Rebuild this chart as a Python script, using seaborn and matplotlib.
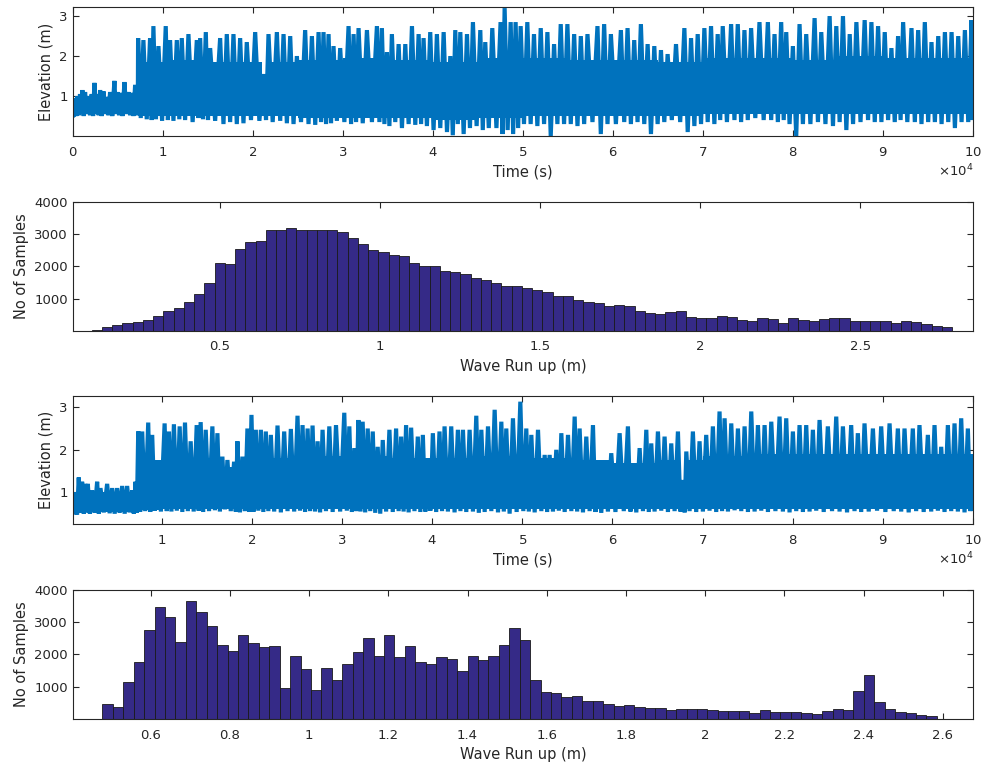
import numpy as np
import pandas as pd
import seaborn as sns
import matplotlib
matplotlib.use("Agg")
import matplotlib.pyplot as plt
from matplotlib.ticker import FuncFormatter

# ---- run 1 elevation record: peak times (x1e4 s), peak tops and local lows (m)
run1_t = [0.0, 0.026, 0.052, 0.081, 0.107, 0.137, 0.174, 0.211, 0.241, 0.274, 0.304,
          0.341, 0.378, 0.415, 0.463, 0.496, 0.533, 0.574, 0.619, 0.656, 0.693, 0.719,
          0.726, 0.785, 0.859, 0.896, 0.952, 1.033, 1.081, 1.156, 1.211, 1.285, 1.378,
          1.415, 1.478, 1.526, 1.637, 1.711, 1.785, 1.859, 1.933, 2.026, 2.119, 2.174,
          2.267, 2.341, 2.415, 2.489, 2.581, 2.656, 2.730, 2.785, 2.841, 2.896, 2.970,
          3.063, 3.119, 3.174, 3.267, 3.378, 3.433, 3.489, 3.544, 3.619, 3.693, 3.767,
          3.841, 3.896, 3.970, 4.044, 4.119, 4.193, 4.248, 4.304, 4.378, 4.444, 4.526,
          4.581, 4.659, 4.751, 4.796, 4.863, 4.918, 4.974, 5.048, 5.122, 5.197, 5.271,
          5.345, 5.419, 5.493, 5.568, 5.642, 5.716, 5.827, 5.901, 5.976, 6.087, 6.161,
          6.235, 6.309, 6.384, 6.458, 6.532, 6.606, 6.699, 6.792, 6.866, 6.940, 7.014,
          7.088, 7.162, 7.218, 7.311, 7.385, 7.459, 7.533, 7.626, 7.719, 7.793, 7.867,
          7.923, 7.997, 8.071, 8.145, 8.238, 8.312, 8.405, 8.479, 8.553, 8.628, 8.702,
          8.794, 8.869, 8.943, 9.017, 9.091, 9.165, 9.221, 9.314, 9.388, 9.462, 9.536,
          9.611, 9.685, 9.759, 9.833, 9.907, 9.981, 10.0]
run1_hi = [0.5, 0.75, 1.0, 1.05, 1.15, 1.1, 1.0, 1.05, 1.33, 1.05, 1.15,
           1.12, 0.98, 1.1, 1.38, 1.1, 1.08, 1.35, 1.1, 1.08, 1.28, 1.1,
           2.45, 2.4, 2.45, 2.75, 2.25, 2.75, 2.4, 2.4, 2.45, 2.55, 2.4,
           2.45, 2.6, 2.2, 2.45, 2.55, 2.55, 2.45, 2.35, 2.6, 1.55, 2.55,
           2.6, 2.55, 2.5, 2.0, 2.65, 2.5, 2.6, 2.6, 2.55, 2.25, 2.2,
           2.75, 2.55, 2.7, 2.65, 2.75, 2.7, 2.1, 2.55, 2.3, 2.3, 2.75,
           2.55, 2.45, 2.6, 2.55, 2.6, 2.0, 2.65, 2.6, 2.55, 2.85, 2.65,
           2.35, 2.7, 2.85, 3.2, 2.85, 2.85, 2.75, 2.85, 2.55, 2.7, 2.6,
           2.3, 2.8, 2.8, 2.55, 2.5, 2.55, 2.75, 2.8, 2.55, 2.65, 2.7,
           2.4, 2.8, 2.3, 2.25, 2.15, 2.05, 2.3, 2.7, 2.45, 2.55, 2.7,
           2.75, 2.55, 2.75, 2.8, 2.8, 2.65, 2.7, 2.85, 2.85, 2.55, 2.85,
           2.6, 2.25, 2.8, 2.55, 2.95, 2.6, 3.0, 2.75, 3.0, 2.55, 2.85,
           2.9, 2.85, 2.75, 2.6, 2.2, 2.5, 2.85, 2.7, 2.65, 2.85, 2.35,
           2.5, 2.6, 2.6, 2.5, 2.65, 2.9, 2.05]
run1_lo = [0.5, 0.5, 0.52, 0.55, 0.5, 0.55, 0.52, 0.5, 0.55, 0.52, 0.5,
           0.55, 0.52, 0.5, 0.55, 0.52, 0.5, 0.55, 0.52, 0.5, 0.55, 0.52,
           0.45, 0.42, 0.4, 0.42, 0.38, 0.4, 0.38, 0.42, 0.4, 0.35, 0.45,
           0.42, 0.4, 0.38, 0.3, 0.35, 0.3, 0.32, 0.4, 0.38, 0.4, 0.35,
           0.38, 0.32, 0.3, 0.35, 0.3, 0.28, 0.35, 0.3, 0.32, 0.38, 0.35,
           0.3, 0.35, 0.32, 0.35, 0.35, 0.3, 0.25, 0.35, 0.2, 0.3, 0.28,
           0.3, 0.25, 0.15, 0.2, 0.1, 0.02, 0.3, 0.05, 0.2, 0.25, 0.15,
           0.2, 0.2, 0.05, 0.15, 0.05, 0.2, 0.3, 0.3, 0.25, 0.3, 0.0,
           0.3, 0.3, 0.3, 0.25, 0.3, 0.35, 0.05, 0.3, 0.3, 0.35, 0.3,
           0.35, 0.3, 0.05, 0.3, 0.35, 0.4, 0.35, 0.1, 0.25, 0.3, 0.35,
           0.3, 0.4, 0.35, 0.4, 0.35, 0.4, 0.45, 0.4, 0.4, 0.35, 0.4,
           0.3, 0.0, 0.3, 0.3, 0.35, 0.3, 0.25, 0.35, 0.15, 0.3, 0.35,
           0.4, 0.35, 0.35, 0.4, 0.35, 0.4, 0.35, 0.35, 0.3, 0.35, 0.35,
           0.3, 0.35, 0.2, 0.35, 0.35, 0.4, 0.45]
# dense core of run 1 (solid band): times (x1e4 s), band bottom and top (m)
core1_t = [0.0, 0.73, 1.0, 1.5, 2.0, 2.1, 2.15, 2.5, 3.0, 3.5, 4.0, 4.5,
           5.0, 5.5, 6.0, 6.5, 7.0, 7.5, 8.0, 8.5, 9.0, 9.5, 10.0]
core1_bot = [0.55, 0.5, 0.5, 0.5, 0.5, 0.5, 0.5, 0.45, 0.45, 0.45, 0.4, 0.45,
             0.5, 0.5, 0.5, 0.5, 0.55, 0.55, 0.55, 0.55, 0.55, 0.55, 0.55]
core1_top = [0.95, 1.85, 1.9, 1.85, 1.85, 1.45, 1.85, 1.9, 1.95, 1.9, 1.85, 1.95,
             1.95, 1.9, 1.9, 1.85, 1.95, 1.95, 1.9, 2.0, 1.95, 1.95, 1.95]

# ---- run 2 elevation record
run2_t = [0.014, 0.040, 0.077, 0.114, 0.151, 0.177, 0.225, 0.281, 0.318, 0.392, 0.448,
          0.503, 0.559, 0.614, 0.670, 0.707, 0.737, 0.781, 0.848, 0.892, 0.948, 1.030,
          1.078, 1.133, 1.197, 1.256, 1.319, 1.386, 1.430, 1.486, 1.560, 1.616, 1.671,
          1.727, 1.801, 1.838, 1.894, 1.949, 1.994, 2.042, 2.098, 2.153, 2.209, 2.283,
          2.357, 2.431, 2.505, 2.561, 2.617, 2.672, 2.728, 2.783, 2.858, 2.932, 3.024,
          3.080, 3.136, 3.180, 3.228, 3.284, 3.340, 3.395, 3.451, 3.525, 3.599, 3.655,
          3.710, 3.766, 3.840, 3.896, 3.951, 4.007, 4.081, 4.137, 4.211, 4.285, 4.341,
          4.415, 4.489, 4.545, 4.619, 4.693, 4.767, 4.822, 4.896, 4.978, 5.044, 5.1,
          5.174, 5.248, 5.303, 5.377, 5.433, 5.507, 5.581, 5.636, 5.710, 5.784, 5.839,
          5.913, 5.987, 6.080, 6.172, 6.228, 6.302, 6.376, 6.431, 6.505, 6.579, 6.653,
          6.727, 6.783, 6.820, 6.893, 6.967, 7.041, 7.115, 7.189, 7.245, 7.319, 7.393,
          7.467, 7.541, 7.615, 7.689, 7.763, 7.855, 7.929, 8.003, 8.077, 8.151, 8.225,
          8.299, 8.391, 8.484, 8.558, 8.650, 8.724, 8.798, 8.891, 8.983, 9.076, 9.168,
          9.242, 9.334, 9.408, 9.501, 9.575, 9.649, 9.723, 9.797, 9.871, 9.945, 10.0]
run2_hi = [0.52, 0.75, 1.35, 1.25, 1.2, 1.2, 1.05, 1.25, 1.1, 1.2, 1.1,
           1.1, 1.15, 1.15, 1.05, 1.25, 2.43, 2.43, 2.64, 2.35, 1.72, 2.62,
           2.43, 2.6, 2.55, 2.64, 2.2, 2.58, 2.65, 2.47, 2.55, 2.39, 1.84,
           1.76, 1.72, 2.2, 1.84, 2.5, 2.82, 2.47, 2.47, 2.43, 2.35, 2.57,
           2.43, 2.49, 2.8, 2.58, 2.5, 2.57, 2.2, 2.47, 2.55, 2.58, 2.87,
           2.55, 2.04, 2.7, 2.66, 2.5, 2.43, 2.07, 2.23, 2.47, 2.5, 2.31,
           2.58, 2.52, 2.31, 2.35, 1.6, 2.39, 2.43, 2.55, 2.55, 2.47, 2.47,
           2.47, 2.8, 2.47, 2.55, 2.94, 2.66, 2.5, 2.74, 3.13, 2.5, 2.35,
           2.47, 1.88, 1.88, 2.0, 2.39, 2.35, 2.78, 2.5, 2.31, 2.58, 1.64,
           1.64, 1.92, 2.39, 2.55, 1.56, 2.04, 2.47, 2.15, 2.43, 2.31, 2.15,
           2.43, 1.29, 1.96, 2.43, 2.2, 2.35, 2.55, 2.9, 2.74, 2.62, 2.5,
           2.55, 2.9, 2.58, 2.58, 2.66, 2.78, 2.74, 2.43, 2.58, 2.58, 2.47,
           2.7, 2.55, 2.78, 2.55, 2.58, 2.39, 2.62, 2.5, 2.55, 2.62, 2.5,
           2.5, 2.5, 2.58, 2.35, 2.58, 2.07, 2.58, 2.62, 2.74, 2.5, 1.68]
run2_lo = [0.5, 0.48, 0.52, 0.5, 0.53, 0.5, 0.52, 0.5, 0.53, 0.51, 0.5,
           0.52, 0.5, 0.53, 0.5, 0.52, 0.55, 0.56, 0.54, 0.57, 0.55, 0.56,
           0.55, 0.57, 0.54, 0.56, 0.55, 0.57, 0.54, 0.56, 0.58, 0.55, 0.6,
           0.56, 0.55, 0.53, 0.56, 0.54, 0.55, 0.57, 0.54, 0.56, 0.55, 0.53,
           0.56, 0.55, 0.57, 0.54, 0.56, 0.55, 0.53, 0.56, 0.54, 0.55, 0.57,
           0.54, 0.56, 0.55, 0.53, 0.56, 0.52, 0.5, 0.55, 0.54, 0.56, 0.55,
           0.53, 0.56, 0.54, 0.55, 0.57, 0.54, 0.56, 0.55, 0.53, 0.56, 0.54,
           0.55, 0.52, 0.54, 0.56, 0.53, 0.55, 0.5, 0.54, 0.56, 0.55, 0.53,
           0.56, 0.54, 0.55, 0.57, 0.54, 0.56, 0.55, 0.53, 0.56, 0.54, 0.52,
           0.55, 0.54, 0.56, 0.55, 0.53, 0.56, 0.54, 0.55, 0.57, 0.54, 0.56,
           0.55, 0.53, 0.56, 0.54, 0.55, 0.57, 0.54, 0.56, 0.55, 0.58, 0.56,
           0.54, 0.55, 0.57, 0.54, 0.56, 0.55, 0.53, 0.56, 0.54, 0.55, 0.57,
           0.54, 0.56, 0.55, 0.53, 0.56, 0.54, 0.55, 0.57, 0.54, 0.56, 0.55,
           0.53, 0.56, 0.54, 0.55, 0.57, 0.54, 0.56, 0.55, 0.53, 0.56, 0.58]
core2_t = [0.014, 0.73, 1.0, 1.5, 1.65, 1.9, 2.5, 3.0, 3.5, 4.0, 4.5, 5.0,
           5.5, 6.0, 6.5, 6.75, 6.8, 7.0, 7.5, 8.0, 8.5, 9.0, 9.5, 10.0]
core2_bot = [0.55, 0.58, 0.6, 0.6, 0.6, 0.6, 0.6, 0.6, 0.6, 0.6, 0.6, 0.6,
             0.6, 0.6, 0.6, 0.6, 0.6, 0.6, 0.6, 0.6, 0.6, 0.6, 0.6, 0.6]
core2_top = [1.0, 1.75, 1.8, 1.8, 1.6, 1.8, 1.85, 1.85, 1.8, 1.8, 1.85, 1.8,
             1.75, 1.7, 1.75, 1.3, 1.75, 1.85, 1.9, 1.9, 1.9, 1.9, 1.9, 1.9]

# ---- wave run-up histograms (counts per bin)
hist1_start, hist1_width = 0.099, 0.032
hist1_counts = [20, 100, 170, 230, 260, 320, 460, 615, 715, 900, 1130, 1480,
                2105, 2065, 2550, 2745, 2775, 3130, 3130, 3200, 3130, 3130, 3130,
                3130, 3070, 2880, 2695, 2520, 2460, 2360, 2330, 2105, 2005, 2005,
                1850, 1810, 1770, 1650, 1590, 1490, 1395,
                1395, 1325, 1265, 1195, 1090, 1090, 940, 900, 870, 765, 805, 775,
                615, 555, 515, 585, 615, 420, 380, 380, 460, 430, 320, 290, 390,
                350, 250, 390, 320, 290, 350, 390, 390, 310, 310, 310, 290, 230,
                290, 260, 200, 140, 100]

hist2_start, hist2_width = 0.478, 0.02634
hist2_counts = [450, 357, 1143, 1755, 2765, 3480, 3153, 2378, 3673, 3316, 2888,
                2306, 2112, 2602, 2347, 2245, 2275, 969, 1949, 1561, 910, 1582,
                1224, 1694, 2082, 2510, 1949, 2602, 1918, 2275, 1755, 1694, 1918,
                1847, 1490, 1949, 1816,
                1949, 2306, 2827, 2459, 1194, 837, 806, 673, 704, 571, 571, 480,
                408, 439, 378, 337, 337, 286, 306, 306, 306, 276, 255, 255, 255,
                184, 286, 214, 214, 214, 173, 143, 255, 316, 286, 867, 1357, 520,
                316, 224, 184, 122, 92]

line_color = "#0072BD"
bar_color = "#352A87"
ink = "#262626"

sns.set_style("ticks")
plt.rcParams["font.family"] = ["DejaVu Sans"]
plt.rcParams.update({
    "font.size": 9.5,
    "axes.edgecolor": ink,
    "axes.labelcolor": ink,
    "xtick.color": ink,
    "ytick.color": ink,
    "xtick.direction": "in",
    "ytick.direction": "in",
    "axes.linewidth": 0.8,
})


def zigzag(t, hi, lo):
    t = np.asarray(t) * 1e4
    mid = np.append((t[:-1] + t[1:]) / 2, t[-1])
    xs = np.column_stack([t, mid]).ravel()
    ys = np.column_stack([hi, lo]).ravel()
    return pd.DataFrame({"Time": xs, "Elevation": ys})


def style_box(ax):
    ax.tick_params(top=True, right=True, length=4, width=0.8, labelsize=9.5)
    ax.tick_params(axis="x", pad=7)
    for s in ax.spines.values():
        s.set_visible(True)


def series_panel(ax, df, core_t, core_bot, core_top, xlim, ylim, xticks):
    ax.fill_between(np.asarray(core_t) * 1e4, core_bot, core_top, step="post",
                    color=line_color, linewidth=0, zorder=1)
    sns.lineplot(data=df, x="Time", y="Elevation", ax=ax, color=line_color,
                 linewidth=3.0, sort=False, estimator=None, zorder=2,
                 solid_joinstyle="bevel", solid_capstyle="butt")
    ax.set_xlim(*xlim)
    ax.set_ylim(*ylim)
    ax.set_xticks(xticks)
    ax.set_yticks([1, 2, 3])
    ax.ticklabel_format(style="sci", axis="x", scilimits=(4, 4), useMathText=True)
    ax.set_xlabel("Time (s)", fontsize=10.5)
    ax.set_ylabel("Elevation (m)", fontsize=10.5)
    style_box(ax)


def hist_panel(ax, start, width, counts, xlim, xticks):
    edges = [start + width * i for i in range(len(counts) + 1)]
    df = pd.DataFrame({"runup": [e + width / 2 for e in edges[:-1]], "n": counts})
    sns.histplot(data=df, x="runup", weights="n", bins=edges, ax=ax, color=bar_color,
                 edgecolor="#1a1a1a", linewidth=0.6, alpha=1)
    ax.set_xlim(*xlim)
    ax.set_ylim(0, 4000)
    ax.set_xticks(xticks)
    ax.set_yticks([1000, 2000, 3000, 4000])
    ax.xaxis.set_major_formatter(FuncFormatter(lambda v, p: f"{v:g}"))
    ax.set_xlabel("Wave Run up (m)", fontsize=10.5)
    ax.set_ylabel("No of Samples", fontsize=10.5)
    style_box(ax)


fig = plt.figure(figsize=(9.84, 7.69), dpi=100)
ax1 = fig.add_axes([0.0739, 0.8231, 0.9152, 0.1674])
ax2 = fig.add_axes([0.0739, 0.5700, 0.9152, 0.1673])
ax3 = fig.add_axes([0.0739, 0.3182, 0.9152, 0.1672])
ax4 = fig.add_axes([0.0739, 0.0650, 0.9152, 0.1678])

series_panel(ax1, zigzag(run1_t, run1_hi, run1_lo), core1_t, core1_bot, core1_top,
             (0, 1e5), (0, 3.22), np.arange(0, 11) * 1e4)
hist_panel(ax2, hist1_start, hist1_width, hist1_counts, (0.04, 2.853),
           [0.5, 1, 1.5, 2, 2.5])
series_panel(ax3, zigzag(run2_t, run2_hi, run2_lo), core2_t, core2_bot, core2_top,
             (100, 1.0005e5), (0.25, 3.27), np.arange(1, 11) * 1e4)
hist_panel(ax4, hist2_start, hist2_width, hist2_counts, (0.403, 2.677),
           [0.6, 0.8, 1, 1.2, 1.4, 1.6, 1.8, 2, 2.2, 2.4, 2.6])

fig.savefig("out.png", dpi=100)
